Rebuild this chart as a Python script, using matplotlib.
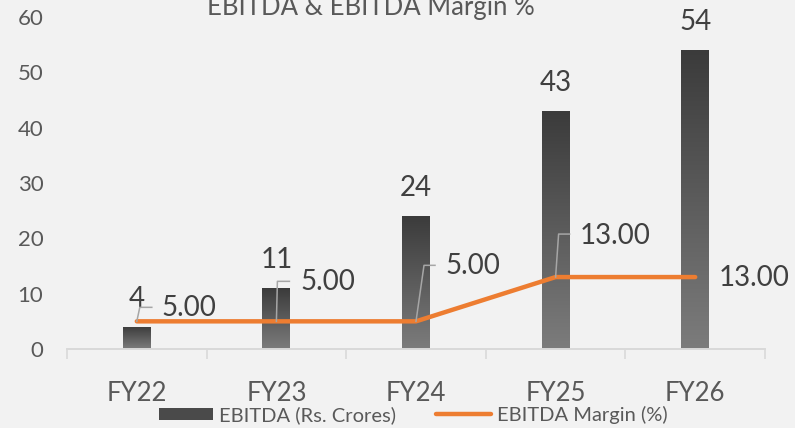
import numpy as np
import matplotlib
matplotlib.use("Agg")
import matplotlib.pyplot as plt
import matplotlib.transforms as mtransforms
from matplotlib.colors import LinearSegmentedColormap
from matplotlib.patches import Patch
from matplotlib.lines import Line2D

# Data
years = ["FY22", "FY23", "FY24", "FY25", "FY26"]
ebitda = [4, 11, 24, 43, 54]
margin = [5.00, 5.00, 5.00, 13.00, 13.00]

# label placement for margin values (pixel offsets from the point)
text_off = [(25, 13), (24, 39), (29, 55), (24, 41), (23, -1)]
leader_off = [[(0, 0), (3, 14), (15, 14)],
              [(0, 0), (1, 40), (13, 40)],
              [(0, 0), (8, 56), (19, 56)],
              [(0, 0), (3, 43), (14, 43)],
              None]

plt.rcParams['font.family'] = ['Lato', 'DejaVu Sans']
bg = '#f2f2f2'
dark_txt = '#404040'
grey_txt = '#595959'
orange = '#ED7D31'

fig = plt.figure(figsize=(7.95, 4.28), dpi=100, facecolor=bg)
ax = fig.add_axes([67 / 795, 79 / 428, 698 / 795, 332 / 428], facecolor=bg)

x = np.arange(len(years))
bar_w = 0.2
cmap = LinearSegmentedColormap.from_list('barg', ['#3b3b3b', '#7c7c7c'])
bars = ax.bar(x, ebitda, width=bar_w, color='none', edgecolor='none', zorder=2)
grad = np.linspace(1, 0, 256).reshape(-1, 1)
for b in bars:
    bx, by = b.get_x(), b.get_y()
    im = ax.imshow(grad, cmap=cmap, vmin=0, vmax=1, origin='lower', aspect='auto',
                   extent=[bx, bx + b.get_width(), by, by + b.get_height()], zorder=2)
    im.set_clip_path(b)

ax.plot(x, margin, color=orange, lw=3.2, solid_capstyle='round',
        solid_joinstyle='round', zorder=3)

# bar value labels
for xi, v in zip(x, ebitda):
    ax.annotate(f"{v}", (xi, v), xytext=(0, 14.5), textcoords='offset points',
                ha='center', va='baseline', fontsize=20, color=dark_txt)

# margin labels with leader lines
for xi, m, (dx, dy), lead in zip(x, margin, text_off, leader_off):
    base = fig.dpi_scale_trans + mtransforms.ScaledTranslation(xi, m, ax.transData)
    if lead is not None:
        lx = [p[0] / 100 for p in lead]
        ly = [p[1] / 100 for p in lead]
        ax.plot(lx, ly, transform=base, color='#a6a6a6', lw=1.1, zorder=4,
                clip_on=False)
    ax.text(dx / 100, dy / 100, f"{m:.2f}", transform=base, ha='left',
            va='center', fontsize=20, color=dark_txt, zorder=5)

ax.set_xlim(-0.5, len(years) - 0.5)
ax.set_ylim(0, 60)
ax.set_yticks(range(0, 61, 10))
ax.set_xticks(x)
ax.set_xticklabels(years)
ax.set_xticks(np.arange(-0.5, len(years), 1), minor=True)
ax.tick_params(axis='x', which='major', length=0, pad=23, labelsize=18.5,
               labelcolor=grey_txt)
ax.tick_params(axis='x', which='minor', length=7, width=1.2, color='#d9d9d9')
ax.tick_params(axis='y', length=0, pad=17, labelsize=16, labelcolor=grey_txt)
for s in ['top', 'right', 'left']:
    ax.spines[s].set_visible(False)
ax.spines['bottom'].set_color('#d9d9d9')
ax.spines['bottom'].set_linewidth(1.4)

fig.text(371 / 795, 1 - 15 / 428, "EBITDA & EBITDA Margin %", ha='center',
         va='baseline', fontsize=18.5, color=grey_txt)

handles = [Patch(facecolor='#4a4a4a', edgecolor='none'),
           Line2D([0], [0], color=orange, lw=3.2, solid_capstyle='round')]
leg = fig.legend(handles, ["EBITDA (Rs. Crores)", "EBITDA Margin (%)"],
                 loc='center', bbox_to_anchor=(413 / 795, 1 - 415 / 428),
                 ncol=2, frameon=False, fontsize=14.5, handlelength=2.7,
                 handleheight=0.55, handletextpad=0.3, columnspacing=2.0,
                 borderaxespad=0, borderpad=0)
for t in leg.get_texts():
    t.set_color(grey_txt)

fig.savefig("out.png", dpi=100, facecolor=bg)
